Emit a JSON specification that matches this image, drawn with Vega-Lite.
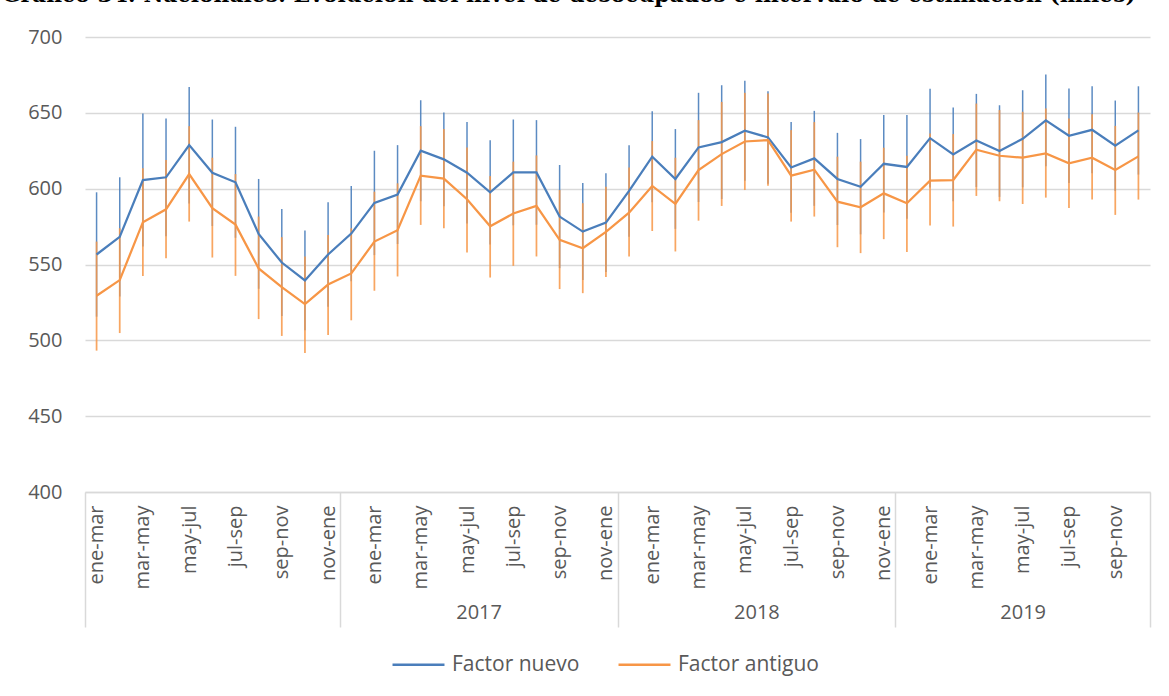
{
  "$schema": "https://vega.github.io/schema/vega-lite/v6.json",
  "width": 1065,
  "height": 455,
  "autosize": "none",
  "padding": {"left": 85, "top": 37, "right": 19, "bottom": 204},
  "background": "white",
  "title": {
    "text": "Gráfico 34: Nacionales: Evolución del nivel de desocupados e intervalo de estimación (miles)",
    "font": "DejaVu Serif",
    "fontSize": 21.8,
    "fontWeight": "bold",
    "color": "#000000",
    "anchor": "start",
    "frame": "group",
    "baseline": "alphabetic",
    "offset": 3,
    "dx": -83
  },
  "data": {
    "values": [
      {"n":1,"anio":2016,"periodo":"ene-mar","serie":"Factor nuevo","valor":556.6,"lo":515.6,"hi":597.6},
      {"n":2,"anio":2016,"periodo":"feb-abr","serie":"Factor nuevo","valor":568.2,"lo":528.9,"hi":607.5},
      {"n":3,"anio":2016,"periodo":"mar-may","serie":"Factor nuevo","valor":605.7,"lo":561.8,"hi":649.6},
      {"n":4,"anio":2016,"periodo":"abr-jun","serie":"Factor nuevo","valor":607.5,"lo":568.7,"hi":646.3},
      {"n":5,"anio":2016,"periodo":"may-jul","serie":"Factor nuevo","valor":628.7,"lo":590.3,"hi":667.1},
      {"n":6,"anio":2016,"periodo":"jun-ago","serie":"Factor nuevo","valor":610.5,"lo":575.4,"hi":645.6},
      {"n":7,"anio":2016,"periodo":"jul-sep","serie":"Factor nuevo","valor":604.2,"lo":567.6,"hi":640.8},
      {"n":8,"anio":2016,"periodo":"ago-oct","serie":"Factor nuevo","valor":570.2,"lo":534.0,"hi":606.4},
      {"n":9,"anio":2016,"periodo":"sep-nov","serie":"Factor nuevo","valor":551.3,"lo":516.0,"hi":586.6},
      {"n":10,"anio":2016,"periodo":"oct-dic","serie":"Factor nuevo","valor":539.5,"lo":506.6,"hi":572.4},
      {"n":11,"anio":2016,"periodo":"nov-ene","serie":"Factor nuevo","valor":556.6,"lo":522.2,"hi":591.0},
      {"n":12,"anio":2017,"periodo":"dic-feb","serie":"Factor nuevo","valor":570.4,"lo":539.0,"hi":601.8},
      {"n":13,"anio":2017,"periodo":"ene-mar","serie":"Factor nuevo","valor":590.6,"lo":556.2,"hi":625.0},
      {"n":14,"anio":2017,"periodo":"feb-abr","serie":"Factor nuevo","valor":596.1,"lo":563.5,"hi":628.7},
      {"n":15,"anio":2017,"periodo":"mar-may","serie":"Factor nuevo","valor":625.0,"lo":591.7,"hi":658.3},
      {"n":16,"anio":2017,"periodo":"abr-jun","serie":"Factor nuevo","valor":619.3,"lo":588.4,"hi":650.2},
      {"n":17,"anio":2017,"periodo":"may-jul","serie":"Factor nuevo","valor":610.5,"lo":577.1,"hi":643.9},
      {"n":18,"anio":2017,"periodo":"jun-ago","serie":"Factor nuevo","valor":597.6,"lo":563.2,"hi":632.0},
      {"n":19,"anio":2017,"periodo":"jul-sep","serie":"Factor nuevo","valor":610.7,"lo":575.8,"hi":645.6},
      {"n":20,"anio":2017,"periodo":"ago-oct","serie":"Factor nuevo","valor":610.7,"lo":576.2,"hi":645.2},
      {"n":21,"anio":2017,"periodo":"sep-nov","serie":"Factor nuevo","valor":581.6,"lo":547.6,"hi":615.6},
      {"n":22,"anio":2017,"periodo":"oct-dic","serie":"Factor nuevo","valor":571.7,"lo":539.7,"hi":603.7},
      {"n":23,"anio":2017,"periodo":"nov-ene","serie":"Factor nuevo","valor":577.6,"lo":545.1,"hi":610.1},
      {"n":24,"anio":2018,"periodo":"dic-feb","serie":"Factor nuevo","valor":598.5,"lo":568.3,"hi":628.7},
      {"n":25,"anio":2018,"periodo":"ene-mar","serie":"Factor nuevo","valor":621.1,"lo":591.1,"hi":651.1},
      {"n":26,"anio":2018,"periodo":"feb-abr","serie":"Factor nuevo","valor":606.4,"lo":573.5,"hi":639.3},
      {"n":27,"anio":2018,"periodo":"mar-may","serie":"Factor nuevo","valor":627.2,"lo":591.2,"hi":663.2},
      {"n":28,"anio":2018,"periodo":"abr-jun","serie":"Factor nuevo","valor":630.7,"lo":593.2,"hi":668.2},
      {"n":29,"anio":2018,"periodo":"may-jul","serie":"Factor nuevo","valor":638.2,"lo":605.3,"hi":671.1},
      {"n":30,"anio":2018,"periodo":"jun-ago","serie":"Factor nuevo","valor":633.8,"lo":603.3,"hi":664.3},
      {"n":31,"anio":2018,"periodo":"jul-sep","serie":"Factor nuevo","valor":614.0,"lo":584.1,"hi":643.9},
      {"n":32,"anio":2018,"periodo":"ago-oct","serie":"Factor nuevo","valor":620.0,"lo":588.7,"hi":651.3},
      {"n":33,"anio":2018,"periodo":"sep-nov","serie":"Factor nuevo","valor":606.4,"lo":576.0,"hi":636.8},
      {"n":34,"anio":2018,"periodo":"oct-dic","serie":"Factor nuevo","valor":601.3,"lo":569.9,"hi":632.7},
      {"n":35,"anio":2018,"periodo":"nov-ene","serie":"Factor nuevo","valor":616.4,"lo":584.3,"hi":648.5},
      {"n":36,"anio":2019,"periodo":"dic-feb","serie":"Factor nuevo","valor":614.3,"lo":580.1,"hi":648.5},
      {"n":37,"anio":2019,"periodo":"ene-mar","serie":"Factor nuevo","valor":633.3,"lo":600.8,"hi":665.8},
      {"n":38,"anio":2019,"periodo":"feb-abr","serie":"Factor nuevo","valor":622.6,"lo":591.7,"hi":653.5},
      {"n":39,"anio":2019,"periodo":"mar-may","serie":"Factor nuevo","valor":631.8,"lo":601.1,"hi":662.5},
      {"n":40,"anio":2019,"periodo":"abr-jun","serie":"Factor nuevo","valor":624.8,"lo":594.6,"hi":655.0},
      {"n":41,"anio":2019,"periodo":"may-jul","serie":"Factor nuevo","valor":632.9,"lo":600.9,"hi":664.9},
      {"n":42,"anio":2019,"periodo":"jun-ago","serie":"Factor nuevo","valor":645.0,"lo":614.8,"hi":675.2},
      {"n":43,"anio":2019,"periodo":"jul-sep","serie":"Factor nuevo","valor":634.9,"lo":603.8,"hi":666.0},
      {"n":44,"anio":2019,"periodo":"ago-oct","serie":"Factor nuevo","valor":638.8,"lo":610.1,"hi":667.5},
      {"n":45,"anio":2019,"periodo":"sep-nov","serie":"Factor nuevo","valor":628.3,"lo":598.5,"hi":658.1},
      {"n":46,"anio":2019,"periodo":"oct-dic","serie":"Factor nuevo","valor":638.4,"lo":609.3,"hi":667.5},
      {"n":1,"anio":2016,"periodo":"ene-mar","serie":"Factor antiguo","valor":529.4,"lo":493.2,"hi":565.1},
      {"n":2,"anio":2016,"periodo":"feb-abr","serie":"Factor antiguo","valor":539.7,"lo":504.8,"hi":573.9},
      {"n":3,"anio":2016,"periodo":"mar-may","serie":"Factor antiguo","valor":577.9,"lo":542.5,"hi":613.4},
      {"n":4,"anio":2016,"periodo":"abr-jun","serie":"Factor antiguo","valor":586.4,"lo":554.2,"hi":618.9},
      {"n":5,"anio":2016,"periodo":"may-jul","serie":"Factor antiguo","valor":609.6,"lo":578.3,"hi":641.2},
      {"n":6,"anio":2016,"periodo":"jun-ago","serie":"Factor antiguo","valor":587.1,"lo":554.6,"hi":620.4},
      {"n":7,"anio":2016,"periodo":"jul-sep","serie":"Factor antiguo","valor":576.3,"lo":542.5,"hi":609.6},
      {"n":8,"anio":2016,"periodo":"ago-oct","serie":"Factor antiguo","valor":547.4,"lo":514.0,"hi":581.6},
      {"n":9,"anio":2016,"periodo":"sep-nov","serie":"Factor antiguo","valor":535.1,"lo":502.9,"hi":568.0},
      {"n":10,"anio":2016,"periodo":"oct-dic","serie":"Factor antiguo","valor":523.9,"lo":491.7,"hi":555.3},
      {"n":11,"anio":2016,"periodo":"nov-ene","serie":"Factor antiguo","valor":536.8,"lo":503.5,"hi":569.5},
      {"n":12,"anio":2017,"periodo":"dic-feb","serie":"Factor antiguo","valor":544.1,"lo":513.2,"hi":573.9},
      {"n":13,"anio":2017,"periodo":"ene-mar","serie":"Factor antiguo","valor":565.1,"lo":532.7,"hi":598.0},
      {"n":14,"anio":2017,"periodo":"feb-abr","serie":"Factor antiguo","valor":572.6,"lo":542.1,"hi":603.5},
      {"n":15,"anio":2017,"periodo":"mar-may","serie":"Factor antiguo","valor":608.6,"lo":576.1,"hi":641.2},
      {"n":16,"anio":2017,"periodo":"abr-jun","serie":"Factor antiguo","valor":606.6,"lo":573.9,"hi":639.3},
      {"n":17,"anio":2017,"periodo":"may-jul","serie":"Factor antiguo","valor":593.0,"lo":557.9,"hi":627.2},
      {"n":18,"anio":2017,"periodo":"jun-ago","serie":"Factor antiguo","valor":575.2,"lo":541.4,"hi":608.3},
      {"n":19,"anio":2017,"periodo":"jul-sep","serie":"Factor antiguo","valor":583.6,"lo":549.1,"hi":617.8},
      {"n":20,"anio":2017,"periodo":"ago-oct","serie":"Factor antiguo","valor":588.6,"lo":555.3,"hi":621.9},
      {"n":21,"anio":2017,"periodo":"sep-nov","serie":"Factor antiguo","valor":566.2,"lo":533.8,"hi":599.1},
      {"n":22,"anio":2017,"periodo":"oct-dic","serie":"Factor antiguo","valor":560.7,"lo":531.1,"hi":590.4},
      {"n":23,"anio":2017,"periodo":"nov-ene","serie":"Factor antiguo","valor":571.5,"lo":541.7,"hi":601.3},
      {"n":24,"anio":2018,"periodo":"dic-feb","serie":"Factor antiguo","valor":584.2,"lo":555.3,"hi":614.0},
      {"n":25,"anio":2018,"periodo":"ene-mar","serie":"Factor antiguo","valor":601.8,"lo":572.1,"hi":631.4},
      {"n":26,"anio":2018,"periodo":"feb-abr","serie":"Factor antiguo","valor":589.9,"lo":558.6,"hi":620.4},
      {"n":27,"anio":2018,"periodo":"mar-may","serie":"Factor antiguo","valor":612.3,"lo":578.9,"hi":645.2},
      {"n":28,"anio":2018,"periodo":"abr-jun","serie":"Factor antiguo","valor":622.8,"lo":588.6,"hi":657.2},
      {"n":29,"anio":2018,"periodo":"may-jul","serie":"Factor antiguo","valor":631.1,"lo":599.1,"hi":663.2},
      {"n":30,"anio":2018,"periodo":"jun-ago","serie":"Factor antiguo","valor":632.0,"lo":602.0,"hi":662.7},
      {"n":31,"anio":2018,"periodo":"jul-sep","serie":"Factor antiguo","valor":608.6,"lo":578.3,"hi":638.6},
      {"n":32,"anio":2018,"periodo":"ago-oct","serie":"Factor antiguo","valor":612.5,"lo":581.6,"hi":643.9},
      {"n":33,"anio":2018,"periodo":"sep-nov","serie":"Factor antiguo","valor":591.4,"lo":561.4,"hi":621.1},
      {"n":34,"anio":2018,"periodo":"oct-dic","serie":"Factor antiguo","valor":587.7,"lo":557.5,"hi":617.8},
      {"n":35,"anio":2018,"periodo":"nov-ene","serie":"Factor antiguo","valor":596.9,"lo":566.7,"hi":627.0},
      {"n":36,"anio":2019,"periodo":"dic-feb","serie":"Factor antiguo","valor":590.4,"lo":558.3,"hi":621.7},
      {"n":37,"anio":2019,"periodo":"ene-mar","serie":"Factor antiguo","valor":605.3,"lo":575.7,"hi":636.4},
      {"n":38,"anio":2019,"periodo":"feb-abr","serie":"Factor antiguo","valor":605.7,"lo":575.0,"hi":636.0},
      {"n":39,"anio":2019,"periodo":"mar-may","serie":"Factor antiguo","valor":625.7,"lo":595.2,"hi":656.1},
      {"n":40,"anio":2019,"periodo":"abr-jun","serie":"Factor antiguo","valor":621.7,"lo":591.7,"hi":651.8},
      {"n":41,"anio":2019,"periodo":"may-jul","serie":"Factor antiguo","valor":620.4,"lo":589.9,"hi":650.7},
      {"n":42,"anio":2019,"periodo":"jun-ago","serie":"Factor antiguo","valor":623.2,"lo":594.1,"hi":652.9},
      {"n":43,"anio":2019,"periodo":"jul-sep","serie":"Factor antiguo","valor":616.7,"lo":587.3,"hi":646.3},
      {"n":44,"anio":2019,"periodo":"ago-oct","serie":"Factor antiguo","valor":620.4,"lo":592.8,"hi":649.1},
      {"n":45,"anio":2019,"periodo":"sep-nov","serie":"Factor antiguo","valor":612.3,"lo":582.7,"hi":641.4},
      {"n":46,"anio":2019,"periodo":"oct-dic","serie":"Factor antiguo","valor":621.3,"lo":592.8,"hi":650.2}
    ]
  },
  "layer": [
    {
      "transform": [{"filter": "datum.serie === 'Factor nuevo'"}],
      "mark": {"type": "rule", "color": "#4A7EBB", "strokeWidth": 1.5, "opacity": 0.9},
      "encoding": {
        "x": {
          "field": "n", "type": "quantitative",
          "scale": {"domain": [0.5, 46.5], "nice": false, "zero": false},
          "axis": {
            "orient": "bottom", "title": null,
            "values": [1,3,5,7,9,11,13,15,17,19,21,23,25,27,29,31,33,35,37,39,41,43,45],
            "labelExpr": "['ene-mar','feb-abr','mar-may','abr-jun','may-jul','jun-ago','jul-sep','ago-oct','sep-nov','oct-dic','nov-ene','dic-feb'][(datum.value - 1) % 12]",
            "labelAngle": -90, "labelAlign": "right", "labelBaseline": "middle",
            "labelPadding": 13, "ticks": false, "grid": false,
            "domain": true, "domainColor": "#d9d9d9", "domainWidth": 1.5,
            "labelFont": "Open Sans", "labelFontSize": 20, "labelColor": "#595959",
            "labelOverlap": false, "labelFlush": false, "labelBound": false
          }
        },
        "y": {
          "field": "lo", "type": "quantitative",
          "scale": {"domain": [400, 700], "nice": false, "zero": false},
          "axis": {
            "title": null, "values": [400,450,500,550,600,650,700],
            "grid": true, "gridColor": "#d9d9d9", "gridWidth": 1.5,
            "domain": false, "ticks": false, "labelPadding": 23,
            "labelFont": "Open Sans", "labelFontSize": 20, "labelColor": "#595959"
          }
        },
        "y2": {"field": "hi"}
      }
    },
    {
      "transform": [{"filter": "datum.serie === 'Factor antiguo'"}],
      "mark": {"type": "rule", "color": "#F79646", "strokeWidth": 1.75, "opacity": 0.85},
      "encoding": {
        "x": {
          "field": "n", "type": "quantitative",
          "scale": {"domain": [0.5, 46.5], "nice": false, "zero": false},
          "axis": {
            "orient": "bottom", "title": null,
            "values": [0.5, 11.5, 23.5, 35.5, 46.5],
            "labels": false, "domain": false, "grid": false,
            "ticks": true, "tickSize": 135, "tickColor": "#d9d9d9", "tickWidth": 1.5
          }
        },
        "y": {"field": "lo", "type": "quantitative"},
        "y2": {"field": "hi"}
      }
    },
    {
      "mark": {"type": "line", "strokeWidth": 2.25},
      "encoding": {
        "x": {
          "field": "n", "type": "quantitative",
          "scale": {"domain": [0.5, 46.5], "nice": false, "zero": false},
          "axis": {
            "orient": "bottom", "title": null,
            "values": [17.5, 29.5, 41],
            "labelExpr": "datum.value == 17.5 ? '2017' : datum.value == 29.5 ? '2018' : '2019'",
            "ticks": false, "domain": false, "grid": false,
            "labelAngle": 0, "labelAlign": "center", "labelBaseline": "top",
            "labelPadding": 110, "labelFlush": false, "labelOverlap": false,
            "labelFont": "Open Sans", "labelFontSize": 20, "labelColor": "#595959"
          }
        },
        "y": {"field": "valor", "type": "quantitative"},
        "color": {
          "field": "serie", "type": "nominal",
          "scale": {"domain": ["Factor nuevo", "Factor antiguo"], "range": ["#4A7EBB", "#F79646"]},
          "legend": {
            "orient": "none", "legendX": 306, "legendY": 600,
            "direction": "horizontal", "title": null,
            "symbolType": "stroke", "symbolSize": 2700, "symbolStrokeWidth": 2.5,
            "labelFont": "Open Sans", "labelFontSize": 21, "labelColor": "#595959",
            "labelOffset": 6, "columnPadding": 33
          }
        }
      }
    }
  ],
  "resolve": {"axis": {"x": "independent"}},
  "config": {"view": {"stroke": null}}
}
